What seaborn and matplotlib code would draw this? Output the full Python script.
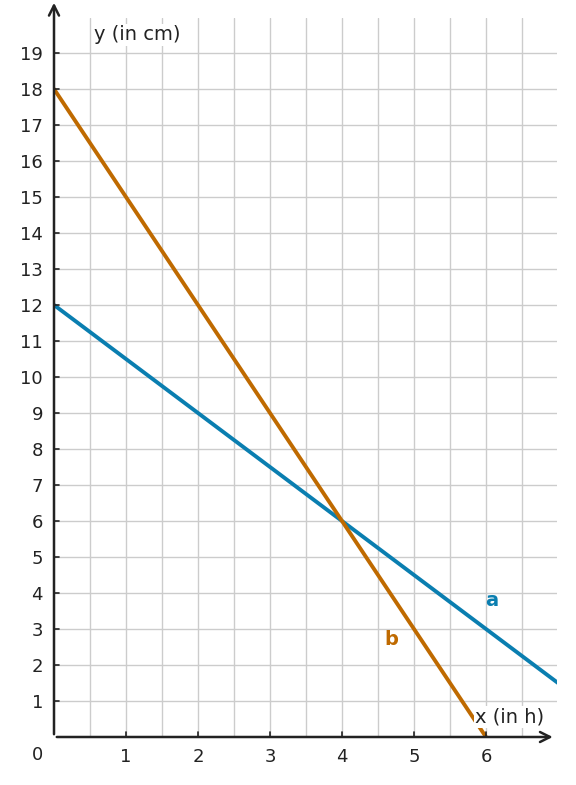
import numpy as np
import seaborn as sns
import matplotlib.pyplot as plt
import pandas as pd

# Data
x_a = [0, 7]
y_a = [12, 1.5]
x_b = [0, 6]
y_b = [18, 0]
x_ticks = [1, 2, 3, 4, 5, 6]
y_ticks = list(range(1, 20))

sns.set_style("white")
plt.rcParams['font.family'] = ['DejaVu Sans']

fig = plt.figure(figsize=(5.76, 7.85), dpi=100)
ax = fig.add_axes([54 / 576, 48 / 785, 503 / 576, 719 / 785])
xmax, ymax = 503 / 72, 719 / 36
ax.set_xlim(0, xmax)
ax.set_ylim(0, ymax)

# grid
for gx in np.arange(0.5, xmax, 0.5):
    ax.axvline(gx, color="#cccccc", lw=1, zorder=0)
for gy in range(1, 20):
    ax.axhline(gy, color="#cccccc", lw=1, zorder=0)

df = pd.concat([
    pd.DataFrame({"x": x_a, "y": y_a, "line": "a"}),
    pd.DataFrame({"x": x_b, "y": y_b, "line": "b"}),
])
sns.lineplot(data=df, x="x", y="y", hue="line", palette={"a": "#0a7eb0", "b": "#bf6a00"},
             lw=2.8, legend=False, ax=ax, zorder=3)

for s in ax.spines.values():
    s.set_visible(False)
ax.set_xlabel("")
ax.set_ylabel("")
ax.set_xticks(x_ticks)
ax.set_yticks(y_ticks)
ax.tick_params(axis="both", length=0, labelsize=13, colors="#222222", pad=8)
# small tick marks
for t in x_ticks:
    ax.plot([t, t], [0, 0.15], color="#222222", lw=1.2, clip_on=False, zorder=4)
for t in y_ticks:
    ax.plot([0, 0.07], [t, t], color="#222222", lw=1.2, clip_on=False, zorder=4)

# axis arrows
ax.annotate("", xy=(xmax - 0.02, 0), xytext=(0, 0), xycoords="data",
            arrowprops=dict(arrowstyle="->", lw=1.8, color="#222222", mutation_scale=18),
            annotation_clip=False, zorder=5)
ax.annotate("", xy=(0, ymax + 0.5), xytext=(0, 0), xycoords="data",
            arrowprops=dict(arrowstyle="->", lw=1.8, color="#222222", mutation_scale=18),
            annotation_clip=False, zorder=5)

ax.text(-0.23, -0.5, "0", fontsize=13, color="#222222", ha="center", va="center")
ax.text(0.55, 19.5, "y (in cm)", fontsize=14, color="#222222", ha="left", va="center",
        bbox=dict(facecolor="white", edgecolor="none", pad=1), zorder=6)
ax.text(5.85, 0.55, "x (in h)", fontsize=14, color="#222222", ha="left", va="center",
        bbox=dict(facecolor="white", edgecolor="none", pad=1), zorder=6)
ax.text(6.08, 3.8, "a", fontsize=14, fontweight="bold", color="#0a7eb0", ha="center", va="center")
ax.text(4.68, 2.7, "b", fontsize=14, fontweight="bold", color="#bf6a00", ha="center", va="center")

fig.savefig("out.png", dpi=100)
